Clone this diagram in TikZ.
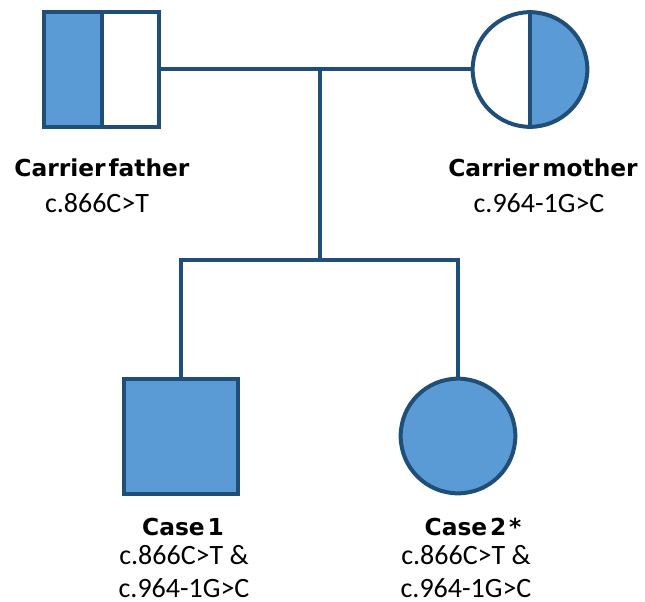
\documentclass[tikz,border=0pt]{standalone}
\usepackage{fontspec}
\setmainfont{Carlito}
\newfontfamily\labelfont[WordSpace=0.35]{DejaVu Sans}
\usetikzlibrary{positioning}
\definecolor{pedline}{HTML}{1F4E79}
\definecolor{pedfill}{HTML}{5B9BD5}
\begin{document}
\begin{tikzpicture}[x=0.75pt, y=-0.75pt, line width=3pt, draw=pedline,
    male/.style={draw=pedline, rectangle, minimum size=86pt, inner sep=0pt},
    female/.style={draw=pedline, circle, minimum size=86pt, inner sep=0pt},
    pname/.style={font=\labelfont\fontsize{17.5}{20}\selectfont\bfseries, anchor=base, inner sep=0pt},
    variant/.style={font=\fontsize{21}{24.75}\selectfont, align=center, anchor=base, inner sep=0pt}]
    \useasboundingbox (0,0) rectangle (645,602);
    % parents
    \node[male, path picture={
        \fill[pedfill] (path picture bounding box.south west) rectangle (path picture bounding box.north);
        \draw[pedline] (path picture bounding box.south) -- (path picture bounding box.north);}]
        (father) at (101.5,69.5) {};
    \node[female, path picture={
        \fill[pedfill] (path picture bounding box.south) rectangle (path picture bounding box.north east);
        \draw[pedline] (path picture bounding box.south) -- (path picture bounding box.north);}]
        (mother) at (530,69.5) {};
    % affected children
    \node[male, fill=pedfill] (case1) at (181,436.5) {};
    \node[female, fill=pedfill] (case2) at (458,436) {};
    % lines of descent
    \coordinate (union) at (320,69.5);
    \coordinate (sibs) at (320,260);
    \draw (father.east) -- (mother.west);
    \draw (union) -- (sibs);
    \draw (case1.north) |- (sibs) -| (case2.north);
    % labels
    \node[pname] (fathername) at (102,177) {Carrier father};
    \node[variant] (fathervar) at (97,213) {c.866C>T};
    \node[pname] (mothername) at (543,177) {Carrier mother};
    \node[variant] (mothervar) at (539,213) {c.964-1G>C};
    \node[pname] (case1name) at (183,535) {Case 1};
    \node[variant, text depth=0pt] (case1var) at (184,597) {c.866C>T \&\\c.964-1G>C};
    \node[pname] (case2name) at (473,535) {Case 2 *};
    \node[variant, text depth=0pt] (case2var) at (466,597) {c.866C>T \&\\c.964-1G>C};
\end{tikzpicture}
\end{document}
